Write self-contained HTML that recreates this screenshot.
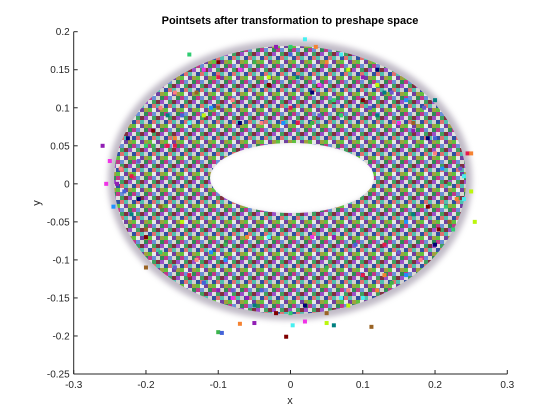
<!DOCTYPE html>
<html><head><meta charset="utf-8"><style>
body{margin:0;background:#fff;}
svg{display:block;font-family:"Liberation Sans",sans-serif;}
</style></head><body>
<svg id="chart" width="560" height="420">
<defs>
<pattern id="tex" width="16" height="16" patternUnits="userSpaceOnUse">
<rect width="16" height="16" fill="rgb(140,130,150)"/>
<rect x="0" y="0" width="4" height="4" fill="#2e8b57"/>
<rect x="4" y="0" width="4" height="4" fill="#c0398a"/>
<rect x="8" y="0" width="4" height="4" fill="#6a8fd8"/>
<rect x="12" y="0" width="4" height="4" fill="#d8d8d0"/>
<rect x="0" y="4" width="4" height="4" fill="#9a50c8"/>
<rect x="4" y="4" width="4" height="4" fill="#e0e0e0"/>
<rect x="8" y="4" width="4" height="4" fill="#40a060"/>
<rect x="12" y="4" width="4" height="4" fill="#803040"/>
<rect x="0" y="8" width="4" height="4" fill="#d0d0d0"/>
<rect x="4" y="8" width="4" height="4" fill="#3050a0"/>
<rect x="8" y="8" width="4" height="4" fill="#e07070"/>
<rect x="12" y="8" width="4" height="4" fill="#50c0b0"/>
<rect x="0" y="12" width="4" height="4" fill="#a0a040"/>
<rect x="4" y="12" width="4" height="4" fill="#60c040"/>
<rect x="8" y="12" width="4" height="4" fill="#e8e8e8"/>
<rect x="12" y="12" width="4" height="4" fill="#7040a0"/>
</pattern>
<filter id="soft" x="-10%" y="-10%" width="120%" height="120%"><feGaussianBlur stdDeviation="3"/></filter>
</defs>
<rect width="560" height="420" fill="#fff"/>
<text x="290" y="24" text-anchor="middle" font-size="11" font-weight="bold" fill="#000">Pointsets after transformation to preshape space</text>
<path fill-rule="evenodd" fill="rgb(150,140,160)" opacity="0.6" filter="url(#soft)"
 d="M108,180 A182,140 0 1,0 472,180 A182,140 0 1,0 108,180 Z M207,178 A85,37 0 1,1 377,178 A85,37 0 1,1 207,178 Z"/>
<path fill-rule="evenodd" fill="url(#tex)"
 d="M114,180 A176,134 0 1,0 466,180 A176,134 0 1,0 114,180 Z M210,178 A82,35 0 1,1 374,178 A82,35 0 1,1 210,178 Z"/>
<g id="points"></g>
<g id="axes"></g>
<text x="290" y="404" text-anchor="middle" font-size="11" fill="#262626">x</text>
<text x="40" y="203" text-anchor="middle" font-size="11" fill="#262626" transform="rotate(-90 40 203)">y</text>
</svg>
<script>
const xTicks=[-0.3,-0.2,-0.1,0,0.1,0.2,0.3];
const xTickLabels=["-0.3","-0.2","-0.1","0","0.1","0.2","0.3"];
const yTicks=[-0.25,-0.2,-0.15,-0.1,-0.05,0,0.05,0.1,0.15,0.2];
const yTickLabels=["-0.25","-0.2","-0.15","-0.1","-0.05","0","0.05","0.1","0.15","0.2"];
const xs=[-0.1,-0.05,0,0.05,0.1,0.02,-0.07,0.08,0.13,-0.13,-0.03,0.03,0.06,-0.08,0.11,-0.11,0,0.15,-0.15,0.035,-0.02,0.07,-0.12,0.12,-0.17,0.17,-0.19,0.19,-0.2,0.2,-0.21,0.21,-0.22,0.22,-0.23,0.23,-0.24,0.24,-0.25,0.25,-0.22,0.22,-0.2,0.2,-0.18,0.18,-0.16,0.16,-0.14,0.14,-0.12,0.12,-0.1,0.1,-0.08,0.08,-0.05,0.05,-0.02,0.02,0,-0.13,0.15,-0.11,0.13,-0.09,0.09,-0.06,0.06,-0.03,0.03,-0.15,0.17,-0.18,0.19,-0.21,0.215,-0.235,0.235,-0.245,0.245,-0.19,0.2,-0.16,0.17,-0.14,0.15,-0.12,0.12,-0.1,0.1,-0.07,0.07,-0.04,0.04,-0.01,0.01,-0.1,-0.095,-0.07,-0.05,0.003,0.02,0.05,0.06,0.112,-0.006,0.1,-0.14,-0.16,0.14,0.16,-0.17,0.175,-0.12,0.13,-0.06,0.07,0.04,-0.03,0.01,-0.2,0.205,-0.225,0.225,-0.18,0.185,-0.09,0.1,0.05,-0.04,0.25,-0.26,0.24,-0.255,0.255,0.2,-0.2,-0.1,0.12,0.0,0.08,-0.08,0.16,-0.16,0.03];
const ys=[0.14,0.16,0.17,0.16,0.14,0.19,0.15,0.15,0.12,0.12,0.13,0.12,0.11,0.11,0.1,0.1,0.1,0.1,0.09,0.18,0.18,0.17,0.15,0.13,0.09,0.08,0.07,0.06,0.05,0.04,0.03,0.02,0.01,0.0,-0.01,-0.02,0.0,0.01,0.03,-0.01,-0.04,-0.05,-0.07,-0.08,-0.09,-0.1,-0.11,-0.12,-0.12,-0.13,-0.13,-0.14,-0.14,-0.15,-0.15,-0.16,-0.16,-0.17,-0.17,-0.16,-0.17,-0.1,-0.09,-0.09,-0.08,-0.08,-0.08,-0.07,-0.07,-0.07,-0.07,-0.05,-0.04,-0.03,-0.03,-0.02,-0.03,0.02,0.02,-0.03,0.04,0.05,0.06,0.06,0.07,0.08,0.08,0.09,0.09,0.1,0.11,0.08,0.09,0.08,0.09,0.08,0.08,-0.195,-0.196,-0.184,-0.183,-0.186,-0.181,-0.183,-0.186,-0.188,-0.201,-0.12,0.17,0.12,0.12,0.11,0.05,0.05,-0.13,-0.12,-0.15,-0.15,0.13,0.14,0.14,-0.06,-0.06,0.06,-0.06,0.1,0.1,-0.1,-0.12,-0.11,-0.14,0.04,0.05,-0.02,0.0,-0.05,0.11,-0.11,0.16,0.15,0.18,-0.14,-0.14,-0.05,0.05,0.08];
const palette=["#e6194b","#3cb44b","#4363d8","#f58231","#911eb4","#46f0f0","#f032e6","#bcf60c","#008080","#9a6324","#800000","#000075","#2ecc71","#ff7f7f","#6a5acd","#1e90ff"];
const X0=73.7,X1=507.3,Y0=374,Y1=31.7;
const sx=v=>X0+(v+0.3)/0.6*(X1-X0);
const sy=v=>Y0-(v+0.25)/0.45*(Y0-Y1);
const NS="http://www.w3.org/2000/svg";
const pts=document.getElementById('points');
for(let i=0;i<xs.length;i++){
 const r=document.createElementNS(NS,'rect');
 r.setAttribute('x',sx(xs[i])-2);r.setAttribute('y',sy(ys[i])-2);
 r.setAttribute('width',4);r.setAttribute('height',4);
 r.setAttribute('fill',palette[i%palette.length]);
 
 
 pts.appendChild(r);
}
const ax=document.getElementById('axes');
function el(t,a){const e=document.createElementNS(NS,t);for(const k in a)e.setAttribute(k,a[k]);return e;}
const xl=el('line',{x1:X0,y1:Y0,x2:X1,y2:Y0,stroke:'#262626','stroke-width':1});


ax.appendChild(xl);
const yl=el('line',{x1:X0,y1:Y0,x2:X0,y2:Y1,stroke:'#262626','stroke-width':1});


ax.appendChild(yl);
xTicks.forEach((v,i)=>{
 const t=el('line',{x1:sx(v),y1:Y0,x2:sx(v),y2:Y0-4,stroke:'#262626'});
 
 
 ax.appendChild(t);
 const l=el('text',{x:sx(v),y:Y0+14,'text-anchor':'middle','font-size':10,fill:'#262626'});
 l.textContent=xTickLabels[i];
 
 
 ax.appendChild(l);
});
yTicks.forEach((v,i)=>{
 const t=el('line',{x1:X0,y1:sy(v),x2:X0+4,y2:sy(v),stroke:'#262626'});
 
 
 ax.appendChild(t);
 const l=el('text',{x:X0-4,y:sy(v)+3.5,'text-anchor':'end','font-size':10,fill:'#262626'});
 l.textContent=yTickLabels[i];
 
 
 ax.appendChild(l);
});
</script>
</body></html>
